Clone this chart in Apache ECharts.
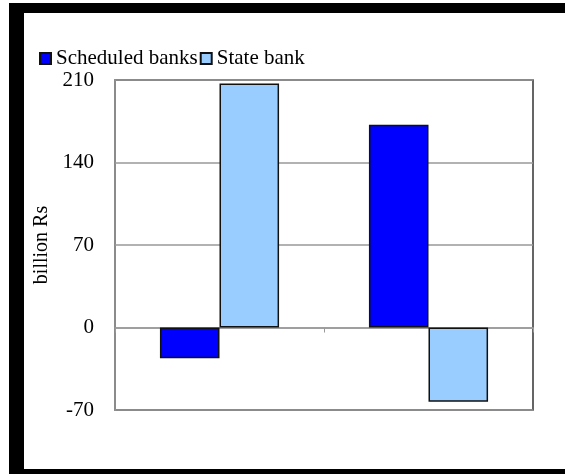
<!DOCTYPE html>
<html>
<head>
<meta charset="utf-8">
<script src="https://cdn.jsdelivr.net/npm/echarts@6/dist/echarts.min.js"></script>
<style>
    html, body { margin: 0; padding: 0; background: #fff; }
    #chart { position: absolute; left: 0; top: 0; width: 565px; height: 474px; }
    #frame {
        position: absolute; left: 9px; top: 3px; width: 556px; height: 471px;
        box-sizing: border-box; pointer-events: none;
        border-top: 10px solid #000; border-left: 15px solid #000; border-bottom: 5px solid #000;
    }
</style>
</head>
<body>
<div id="chart"></div>
<div id="frame"></div>
<script>
const categories = ['Period 1', 'Period 2'];
const scheduledBanks = [-26, 172];
const stateBank = [207, -63];
const yTicks = { min: -70, max: 210, step: 70 };

const serif = '"Liberation Serif", "Times New Roman", serif';

let myChart = echarts.init(document.getElementById('chart'));
myChart.setOption({
    animation: false,
    backgroundColor: '#fff',
    textStyle: { fontFamily: serif },
    legend: {
        left: 34,
        top: 43,
        itemWidth: 11,
        itemHeight: 11,
        itemGap: 2,
        icon: 'rect',
        textStyle: { fontFamily: serif, fontSize: 21, color: '#000' },
    },
    grid: { left: 115, right: 32, top: 80, bottom: 64, show: true, borderColor: '#333', borderWidth: 1.5 },
    xAxis: {
        type: 'category',
        data: categories,
        axisLine: { lineStyle: { color: '#999', width: 1.5 } },
        axisTick: { show: true, length: 5, lineStyle: { color: '#999' } },
        axisLabel: { show: false },
    },
    yAxis: {
        type: 'value',
        min: yTicks.min,
        max: yTicks.max,
        interval: yTicks.step,
        name: 'billion Rs',
        nameLocation: 'middle',
        nameGap: 63,
        nameTextStyle: { fontFamily: serif, fontSize: 20, color: '#000' },
        axisLine: { show: true, lineStyle: { color: '#999', width: 1.5 } },
        axisTick: { show: false },
        axisLabel: { fontFamily: serif, fontSize: 21, color: '#000', margin: 21 },
        splitLine: { lineStyle: { color: '#999', width: 1.5 } },
    },
    series: [
        {
            name: 'Scheduled banks',
            type: 'bar',
            data: scheduledBanks,
            barGap: '0%',
            barCategoryGap: '43%',
            itemStyle: { color: '#0000ff', borderColor: '#111', borderWidth: 1.5 },
        },
        {
            name: 'State bank',
            type: 'bar',
            data: stateBank,
            itemStyle: { color: '#99ccff', borderColor: '#111', borderWidth: 1.5 },
        },
    ],
});
</script>
</body>
</html>
